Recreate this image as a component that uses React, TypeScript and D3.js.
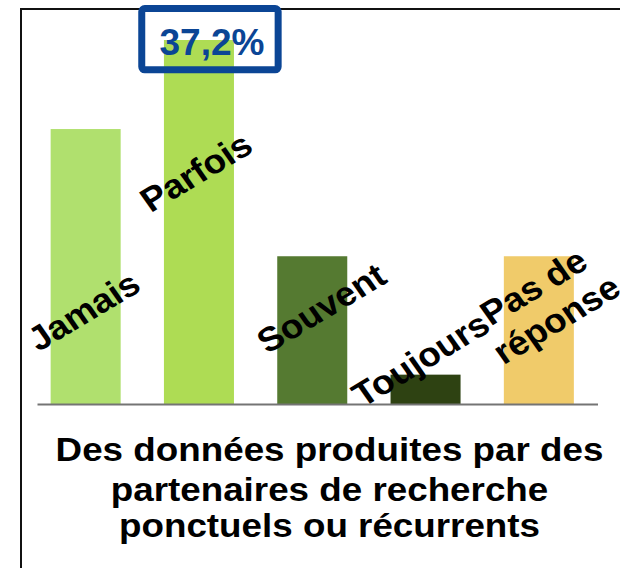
import React from "react"
import * as d3 from "d3"

// values (percent)
const categories = ["Jamais", "Parfois", "Souvent", "Toujours", "Pas de réponse"]
const values = [28.1, 37.2, 15.1, 3.0, 15.1]
const labelLines = [["Jamais"], ["Parfois"], ["Souvent"], ["Toujours"], ["Pas de", "réponse"]]
const barColors = ["#b0e06e", "#aedc54", "#557a31", "#2e4212", "#f0cb6a"]
const highlightIndex = 1
const highlightText = "37,2%"
const titleLines = [
  "Des données produites par des",
  "partenaires de recherche",
  "ponctuels ou récurrents",
]

// label layout (offset from band centre, centre y)
const labelDx = [-2, -3, 9, -5, 6]
const labelCy = [311, 172, 308, 359, 303]
const titleBaselines = [461, 501.5, 537]

const W = 620
const H = 568
const font = "'Liberation Sans', Arial, sans-serif"
const blue = "#0b4595"

function App() {
  const x = d3.scaleBand<string>()
    .domain(categories)
    .range([29, 595.5])
    .paddingInner(0.382)
    .paddingOuter(0.191)
  const y = d3.scaleLinear().domain([0, 37.2]).range([404, 40])

  const hx = (x(categories[highlightIndex]) as number) + x.bandwidth() / 2

  return (
    <svg width={W} height={H} style={{ position: "absolute", left: 0, top: 0, display: "block" }}
      fontFamily={font}>
      <rect width={W} height={H} fill="#fff" />
      {/* frame, only top and left inside the picture */}
      <rect x={21} y={9} width={W + 20} height={H + 20} fill="none" stroke="#111" strokeWidth={2} />

      {categories.map((c, i) => (
        <rect key={c}
          x={x(c)} y={y(values[i])}
          width={x.bandwidth()} height={y(0) - y(values[i])}
          fill={barColors[i]} />
      ))}

      <line x1={37.5} x2={598} y1={y(0) + 0.5} y2={y(0) + 0.5} stroke="#747474" strokeWidth={2} />

      {categories.map((c, i) => {
        const cx = (x(c) as number) + x.bandwidth() / 2 + labelDx[i]
        const lines = labelLines[i]
        return (
          <g key={c} transform={`translate(${cx},${labelCy[i]}) scale(1.08,1) rotate(-33)`}>
            {lines.map((t, j) => (
              <text key={t} x={0} y={(j - (lines.length - 1) / 2) * 39} dy="0.35em"
                textAnchor="middle" fontSize={34} fontWeight="bold" fill="#000">{t}</text>
            ))}
          </g>
        )
      })}

      <rect x={hx - 57.2} y={8.5} width={136.4} height={61.3} rx={3}
        fill="none" stroke={blue} strokeWidth={7} />
      <text x={hx + 13} y={55} textAnchor="middle" fontSize={37} fontWeight="bold" fill={blue}>
        {highlightText}
      </text>

      <g transform={`translate(329.5,0) scale(1.115,1)`}>
        {titleLines.map((t, i) => (
          <text key={t} x={0} y={titleBaselines[i]} textAnchor="middle"
            fontSize={33} fontWeight="bold" fill="#000">{t}</text>
        ))}
      </g>
    </svg>
  )
}

export default App
